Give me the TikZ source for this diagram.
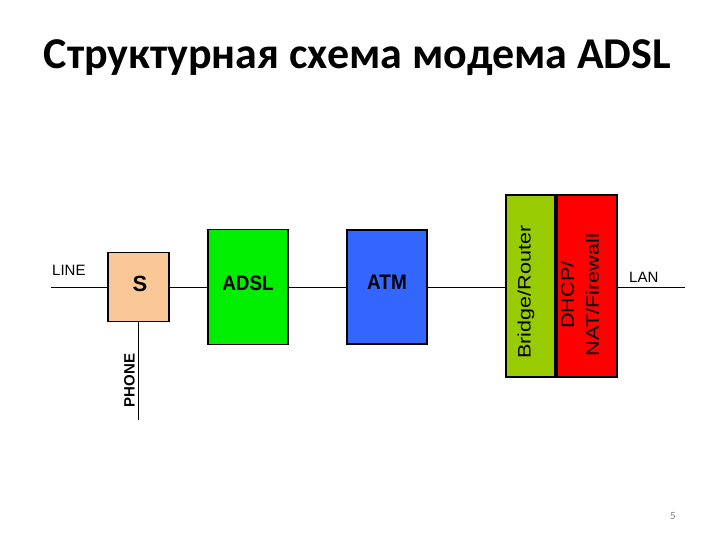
\documentclass[tikz,border=0pt]{standalone}
\usepackage{fontspec}
\setmainfont{Carlito}
\newfontfamily\arialfont{Liberation Sans}
\newfontfamily\widefont[FakeStretch=1.2]{Liberation Sans}
\newfontfamily\narrowfont[FakeStretch=0.9]{Liberation Sans}
\usepackage{tikz}
\usetikzlibrary{positioning}
\definecolor{splitpeach}{HTML}{FAC896}
\definecolor{adslgreen}{HTML}{00EE00}
\definecolor{atmblue}{HTML}{3366FF}
\definecolor{routergreen}{HTML}{99CC00}
\definecolor{natred}{HTML}{FF0000}

\begin{document}
\begin{tikzpicture}[x=1pt, y=-1pt,
    block/.style={draw=black, line width=1.8pt, inner sep=0pt},
    wire/.style={draw=black, line width=1pt},
    lbl/.style={font=\arialfont\fontsize{15}{15}\selectfont, inner sep=0pt},
    boxlbl/.style={font=\narrowfont\bfseries\fontsize{21}{21}\selectfont, inner sep=0pt},
    sidelbl/.style={font=\widefont\fontsize{18}{25}\selectfont, inner sep=0pt, rotate=90, align=center}]
  \useasboundingbox (0,0) rectangle (720,540);

  \node[font=\bfseries\fontsize{44}{48}\selectfont, anchor=base] (title) at (357.5,69) {Структурная схема модема ADSL};

  % blocks
  \node[block, fill=splitpeach, minimum width=61pt, minimum height=69pt] (s) at (138.5,287) {};
  \node[boxlbl, font=\arialfont\bfseries\fontsize{22}{22}\selectfont] at (140,284) {S};
  \node[block, fill=adslgreen, minimum width=80pt, minimum height=115pt] (adsl) at (248,287) {};
  \node[boxlbl] at (248,283) {ADSL};
  \node[block, fill=atmblue, minimum width=80pt, minimum height=114pt] (atm) at (387,287) {};
  \node[boxlbl] at (387,282) {ATM};
  \node[block, fill=routergreen, minimum width=49pt, minimum height=182pt] (bridge) at (530.5,286) {};
  \node[block, fill=natred, minimum width=60pt, minimum height=182pt, right=0pt of bridge] (nat) {};
  \node[sidelbl] (bridgetxt) at (526,292) {Bridge/Router};
  \node[sidelbl] (nattxt) at (580,295) {DHCP/\\NAT/Firewall};

  % wires
  \coordinate (linein) at (51,287);
  \coordinate (phoneout) at (138.5,420);
  \coordinate (lanout) at (685,287);
  \draw[wire] (linein) -- (s.west);
  \draw[wire] (s.east) -- (adsl.west);
  \draw[wire] (adsl.east) -- (atm.west);
  \draw[wire] (atm.east) -- (atm.east -| bridge.west);
  \draw[wire] (nat.east |- lanout) -- (lanout);
  \draw[wire] (s.south) -- (phoneout);

  \node[lbl, anchor=base west] (linelbl) at (52,275) {LINE};
  \node[lbl, anchor=base west] (lanlbl) at (629,282) {LAN};
  \node[lbl, font=\arialfont\bfseries\fontsize{15}{15}\selectfont, rotate=90, anchor=south] (phonelbl) at (135,380.5) {PHONE};

  \node[font=\fontsize{11}{11}\selectfont, text=gray] (pagenum) at (673,516) {5};
\end{tikzpicture}
\end{document}
